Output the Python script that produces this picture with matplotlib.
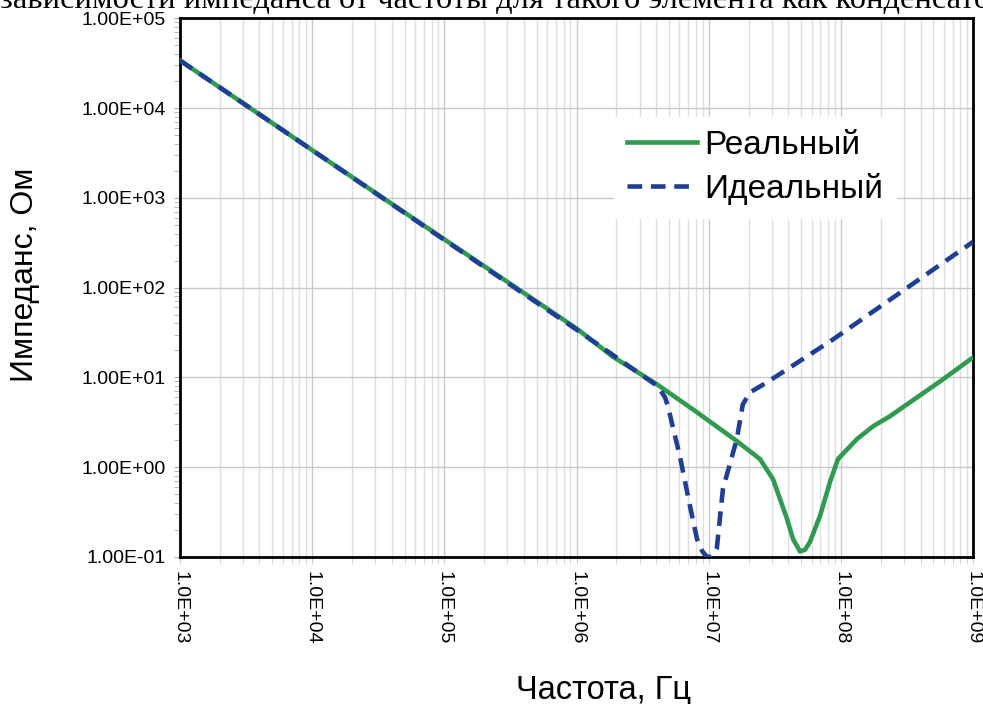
import matplotlib.pyplot as plt
from matplotlib.ticker import LogLocator, FuncFormatter, NullFormatter

# частоты и импедансы
f_ideal = [1e3, 1e4, 1e5, 1e6, 3e6, 4.1e6, 4.67e6, 4.91e6, 6.05e6, 7.21e6,
           8.15e6, 8.89e6, 9.4e6, 9.87e6, 1.05e7, 1.11e7, 1.15e7, 1.28e7,
           1.63e7, 1.81e7, 2.05e7, 2.76e7, 8.7e7, 1e9]
z_ideal = [3.4e4, 3.4e3, 340, 34, 11.0, 8.0, 6.0, 4.76, 1.32, 0.369,
           0.158, 0.117, 0.105, 0.1, 0.1, 0.108, 0.123, 0.57,
           2.05, 5.0, 6.8, 8.8, 26.4, 324]

f_real = [1e3, 1e4, 1e5, 1e6, 1.88e6, 4.06e6, 8.15e6, 1.63e7, 2.44e7, 3.06e7,
          3.91e7, 4.34e7, 4.9e7, 5.35e7, 5.83e7, 6.94e7, 8.26e7, 9.49e7,
          1.32e8, 1.75e8, 2.35e8, 3.16e8, 5.91e8, 1e9]
z_real = [3.4e4, 3.4e3, 345, 35, 17.0, 8.36, 4.08, 1.95, 1.23, 0.736,
          0.264, 0.158, 0.115, 0.12, 0.147, 0.286, 0.68, 1.23,
          2.05, 2.85, 3.69, 5.0, 9.5, 16.7]

labels = ["Реальный", "Идеальный"]

plt.rcParams['font.family'] = ['Liberation Sans', 'DejaVu Sans']

fig = plt.figure(figsize=(9.83, 7.04), dpi=100)
ax = fig.add_axes([0.183, 0.209, 0.807, 0.765])

ax.plot(f_real, z_real, color='#2f9a50', lw=3.3, label=labels[0], zorder=3)
ax.plot(f_ideal, z_ideal, color='#1f3f96', lw=3.3, dashes=(3.2, 1.9),
        label=labels[1], zorder=4)

ax.set_xscale('log')
ax.set_yscale('log')
ax.set_xlim(1e3, 1e9)
ax.set_ylim(1e-1, 1e5)

ax.xaxis.set_major_locator(LogLocator(base=10, numticks=20))
ax.xaxis.set_minor_locator(LogLocator(base=10, subs=range(2, 10), numticks=100))
ax.yaxis.set_major_locator(LogLocator(base=10, numticks=20))
ax.yaxis.set_minor_locator(LogLocator(base=10, subs=range(2, 10), numticks=100))
ax.xaxis.set_major_formatter(FuncFormatter(lambda v, p: "%.1E" % v))
ax.yaxis.set_major_formatter(FuncFormatter(lambda v, p: "%.2E" % v))
ax.xaxis.set_minor_formatter(NullFormatter())
ax.yaxis.set_minor_formatter(NullFormatter())

ax.grid(True, which='major', color='#c8c8c8', lw=1)
ax.grid(True, which='minor', axis='x', color='#dedede', lw=1)

ax.tick_params(axis='x', which='both', direction='out', length=5,
               color='#d0d0d0', labelsize=14, labelrotation=-90, pad=5)
ax.tick_params(axis='y', which='both', direction='out', length=4,
               color='#aaaaaa', labelsize=14, pad=6)
for s in ax.spines.values():
    s.set_linewidth(2)

fig.text(604 / 983, 1 - 690 / 704, "Частота, Гц", fontsize=23.5,
         ha='center', va='center')
fig.text(25 / 983, 1 - 275 / 704, "Импеданс, Ом", fontsize=23,
         ha='center', va='center', rotation=90)

leg = ax.legend(loc='upper left', bbox_to_anchor=(0.526, 0.848), fontsize=24,
                frameon=True, fancybox=False, handlelength=2.1,
                handletextpad=0.2, labelspacing=0.35, borderpad=0.4)
leg.get_frame().set_edgecolor('white')
leg.get_frame().set_alpha(1)

fig.text(0.0, 1 - 8 / 704, "зависимости импеданса от частоты для такого элемента как конденсатор",
         ha='left', va='baseline', fontsize=23.4, family='Liberation Serif')

fig.savefig('out.png', dpi=100, facecolor='white')
